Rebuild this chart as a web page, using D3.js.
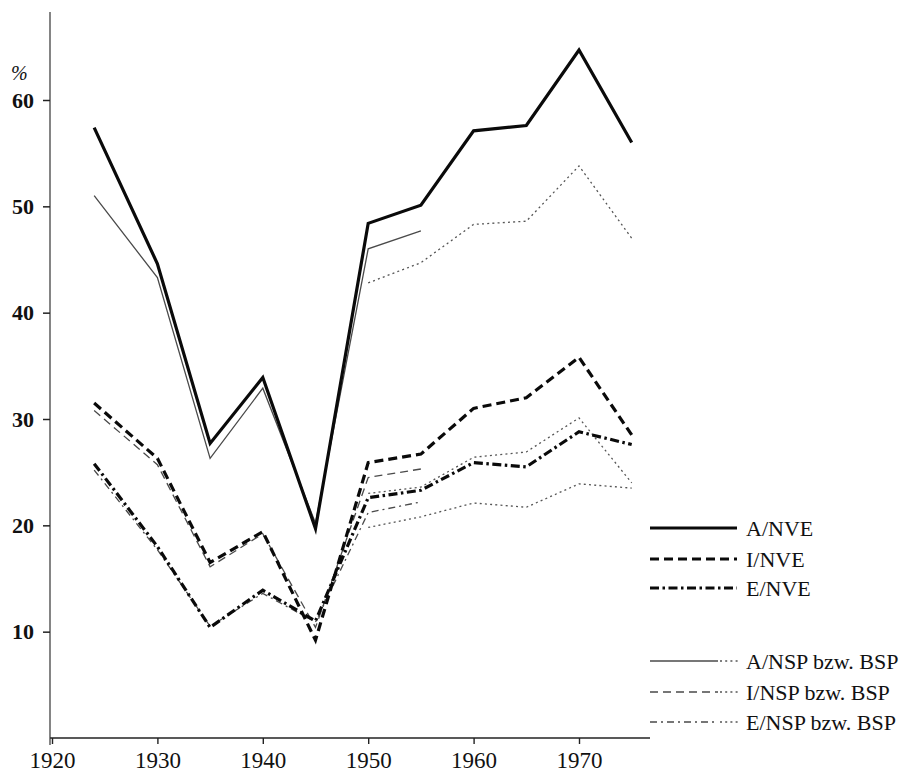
<!DOCTYPE html>
<html>
<head>
<meta charset="utf-8">
<script src="https://cdn.jsdelivr.net/npm/d3@7"></script>
<style>
  html, body { margin: 0; padding: 0; background: #fff; }
  svg { display: block; }
  text { font-family: "Liberation Serif", "DejaVu Serif", serif; fill: #111; }
</style>
</head>
<body>
<svg id="chart" width="909" height="776"></svg>
<script>
// ---- data ----
const years    = [1924, 1930, 1935, 1940, 1945, 1950, 1955, 1960, 1965, 1970, 1975];
const aNVE     = [57.4, 44.6, 27.7, 33.9, 19.7, 48.4, 50.1, 57.1, 57.6, 64.7, 56.0];
const iNVE     = [31.5, 26.3, 16.5, 19.4,  9.2, 25.9, 26.7, 31.0, 32.0, 35.8, 28.5];
const eNVE     = [25.8, 18.0, 10.4, 13.9, 11.0, 22.6, 23.3, 25.9, 25.5, 28.8, 27.6];

const nspYears = [1924, 1930, 1935, 1940, 1945, 1950, 1955];
const aNSP     = [51.0, 43.3, 26.3, 32.9, 20.2, 46.0, 47.7];
const iNSP     = [30.8, 25.7, 16.1, 19.2, 10.4, 24.5, 25.3];
const eNSP     = [25.2, 17.7, 10.5, 13.6, 10.9, 21.2, 22.2];

const bspYears = [1950, 1955, 1960, 1965, 1970, 1975];
const aBSP     = [42.8, 44.7, 48.3, 48.6, 53.8, 47.0];
const iBSP     = [23.0, 23.6, 26.4, 26.9, 30.1, 24.0];
const eBSP     = [19.8, 20.8, 22.1, 21.7, 23.9, 23.5];

const xTicks   = [1920, 1930, 1940, 1950, 1960, 1970];
const yTicks   = [10, 20, 30, 40, 50, 60];
const legendNVE = ["A/NVE", "I/NVE", "E/NVE"];
const legendNSP = ["A/NSP bzw. BSP", "I/NSP bzw. BSP", "E/NSP bzw. BSP"];

// ---- styles ----
const thick = {w: 3.2, c: "#0a0a0a"};
const thin  = {w: 1.3, c: "#4a4a4a"};
const dot   = {w: 1.3, c: "#555", dash: "2,3.2"};
const styleA = null, styleI = "9,5", styleE = "9,3.5,2.5,3.5";
const thinI = "8,5", thinE = "7,4,2,4";

const svg = d3.select("#chart");
const x = d3.scaleLinear().domain([1920, 1970]).range([52, 579]);
const y = d3.scaleLinear().domain([0, 60]).range([738, 100]);

// axes
const xAxis = d3.axisBottom(x).tickValues(xTicks).tickFormat(d3.format("d")).tickSize(6).tickPadding(8);
const gx = svg.append("g").attr("transform", "translate(0,738)").call(xAxis);
gx.select(".domain").attr("d", "M50,0H650").attr("stroke", "#222").attr("stroke-width", 1.6);
gx.selectAll(".tick line").attr("stroke", "#222").attr("stroke-width", 1.4);
gx.selectAll(".tick text").style("font-size", "23px").style("font-family", "Liberation Serif").attr("fill", "#111");

const yAxis = d3.axisLeft(y).tickValues(yTicks).tickSize(7).tickPadding(9);
const gy = svg.append("g").attr("transform", "translate(50,0)").call(yAxis);
gy.select(".domain").attr("d", "M0,12V745").attr("stroke", "#333").attr("stroke-width", 1.2);
gy.selectAll(".tick line").attr("stroke", "#222").attr("stroke-width", 1.5);
gy.selectAll(".tick text").style("font-size", "22px").style("font-weight", "bold").style("font-family", "Liberation Serif").attr("fill", "#111");

svg.append("text").attr("x", 11).attr("y", 80).style("font-size", "20px").style("font-style", "italic").attr("fill", "#444").text("%");

// lines
const line = d3.line().x(d => x(d[0])).y(d => y(d[1]));
function draw(xs, vs, st, dash) {
  svg.append("path")
    .datum(xs.map((yr, i) => [yr, vs[i]]))
    .attr("d", line)
    .attr("fill", "none")
    .attr("stroke", st.c)
    .attr("stroke-width", st.w)
    .attr("stroke-linejoin", "miter")
    .attr("stroke-dasharray", dash || null);
}
draw(nspYears, aNSP, thin, null);
draw(nspYears, iNSP, thin, thinI);
draw(nspYears, eNSP, thin, thinE);
draw(bspYears, aBSP, dot, dot.dash);
draw(bspYears, iBSP, dot, dot.dash);
draw(bspYears, eBSP, dot, dot.dash);
draw(years, aNVE, thick, styleA);
draw(years, iNVE, thick, styleI);
draw(years, eNVE, thick, styleE);

// legend
const lg = svg.append("g");
const nveY = [528, 559, 588];
const nveDash = [styleA, styleI, styleE];
legendNVE.forEach((t, i) => {
  lg.append("line").attr("x1", 650).attr("x2", 737).attr("y1", nveY[i]).attr("y2", nveY[i])
    .attr("stroke", thick.c).attr("stroke-width", thick.w).attr("stroke-dasharray", nveDash[i]);
  lg.append("text").attr("x", 746).attr("y", nveY[i]).attr("dy", "0.35em").style("font-size", "22px").text(t);
});
const nspY = [661, 692, 722];
const nspDash = [null, thinI, thinE];
legendNSP.forEach((t, i) => {
  lg.append("line").attr("x1", 650).attr("x2", 718).attr("y1", nspY[i]).attr("y2", nspY[i])
    .attr("stroke", thin.c).attr("stroke-width", thin.w).attr("stroke-dasharray", nspDash[i]);
  lg.append("line").attr("x1", 720).attr("x2", 738).attr("y1", nspY[i]).attr("y2", nspY[i])
    .attr("stroke", dot.c).attr("stroke-width", dot.w).attr("stroke-dasharray", dot.dash);
  lg.append("text").attr("x", 746).attr("y", nspY[i]).attr("dy", "0.35em").style("font-size", "22px").text(t);
});
</script>
</body>
</html>
